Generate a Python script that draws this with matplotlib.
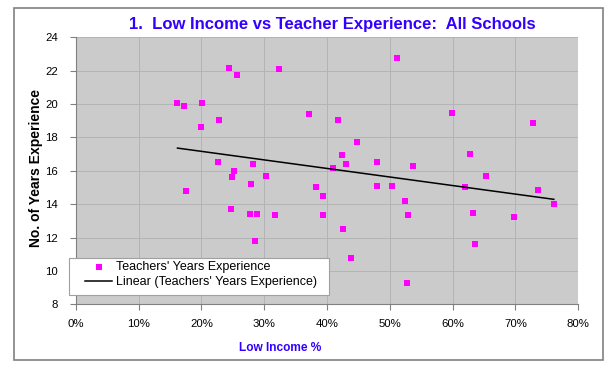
import numpy as np
import matplotlib
matplotlib.use('Agg')
import matplotlib.pyplot as plt
from matplotlib.patches import Rectangle
from matplotlib.ticker import PercentFormatter

plt.rcParams['font.family'] = ['Liberation Sans', 'DejaVu Sans']

# low income % for each school
low_income = [16.2, 17.2, 17.6, 19.9, 20.1, 22.6, 22.8, 24.4, 24.7, 24.9,
              25.2, 25.6, 27.9, 27.8, 28.3, 28.5, 28.9, 30.3, 31.7, 32.4,
              37.2, 38.3, 39.4, 39.4, 41.0, 41.7, 42.4, 42.5, 43.1, 43.8,
              44.7, 47.9, 47.9, 50.3, 51.1, 52.4, 52.7, 52.9, 53.7, 59.9,
              62.0, 62.7, 63.3, 63.5, 65.3, 69.7, 72.8, 73.6, 76.1]
# average teacher years of experience
years_exp = [20.08, 19.87, 14.82, 18.61, 20.08, 16.51, 19.07, 22.16, 13.70, 15.65,
             15.98, 21.76, 15.23, 13.42, 16.39, 11.80, 13.42, 15.71, 13.36, 22.08,
             19.41, 15.04, 14.50, 13.36, 16.17, 19.07, 16.93, 12.54, 16.39, 10.80,
             17.71, 16.51, 15.10, 15.10, 22.76, 14.22, 9.31, 13.36, 16.31, 19.47,
             15.04, 16.99, 13.48, 11.62, 15.69, 13.22, 18.87, 14.84, 14.04]

x_ticks = [0, 10, 20, 30, 40, 50, 60, 70, 80]
y_ticks = [8, 10, 12, 14, 16, 18, 20, 22, 24]

title_color = '#3300ff'

fig = plt.figure(figsize=(6.13, 3.70), dpi=100)
ax = fig.add_axes([0.1235, 0.1773, 0.8199, 0.7219])
ax.set_facecolor('#cbcbcb')

# outer chart frame
fig.patches.append(Rectangle((14 / 613, 10 / 370), 589 / 613, 352 / 370,
                             transform=fig.transFigure, fill=False,
                             edgecolor='#808080', linewidth=1.2))

ax.scatter(low_income, years_exp, marker='s', s=22, color='#ff00ff',
           linewidths=0, zorder=3, label="Teachers' Years Experience")

# linear trendline like excel does
xs = np.array(low_income)
slope, icpt = np.polyfit(xs, np.array(years_exp), 1)
line_x = np.array([xs.min(), xs.max()])
ax.plot(line_x, slope * line_x + icpt, color='black', linewidth=1.1, zorder=4,
        label="Linear (Teachers' Years Experience)")

ax.set_xlim(0, 80)
ax.set_ylim(8, 24)
ax.set_xticks(x_ticks)
ax.set_yticks(y_ticks)
ax.xaxis.set_major_formatter(PercentFormatter(decimals=0))
ax.grid(True, color='#b4b4b4', linewidth=0.7)
ax.set_axisbelow(True)
ax.tick_params(labelsize=8.2, length=4, color='#808080')
ax.tick_params(axis='x', pad=6.2)
ax.tick_params(axis='y', pad=9)

for side in ['top', 'right']:
    ax.spines[side].set_visible(False)
for side in ['left', 'bottom']:
    ax.spines[side].set_color('#808080')

ax.set_title('1.  Low Income vs Teacher Experience:  All Schools',
             color=title_color, fontsize=12, fontweight='bold',
             x=0.511, y=1.03, pad=0)
ax.set_xlabel('Low Income %', color=title_color, fontsize=8.6,
              fontweight='bold')
ax.xaxis.set_label_coords(0.4065, -0.1396)
ax.set_ylabel('No. of Years Experience', fontsize=10, fontweight='bold')
ax.yaxis.set_label_coords(-0.0657, 0.511)

# legend box (drawn separately so the padding matches)
ax.add_patch(Rectangle((-0.0133, 0.0352), 0.517, 0.1385,
                       transform=ax.transAxes, facecolor='white',
                       edgecolor='#a0a0a0', linewidth=0.8,
                       clip_on=False, zorder=5))
leg = ax.legend(loc='center left', bbox_to_anchor=(0.0185, 0.111),
                borderaxespad=0, borderpad=0, frameon=False, fontsize=9,
                handlelength=2.16, handletextpad=0.32, labelspacing=0.25)
leg.set_zorder(6)

plt.savefig('out.png', dpi=100)
